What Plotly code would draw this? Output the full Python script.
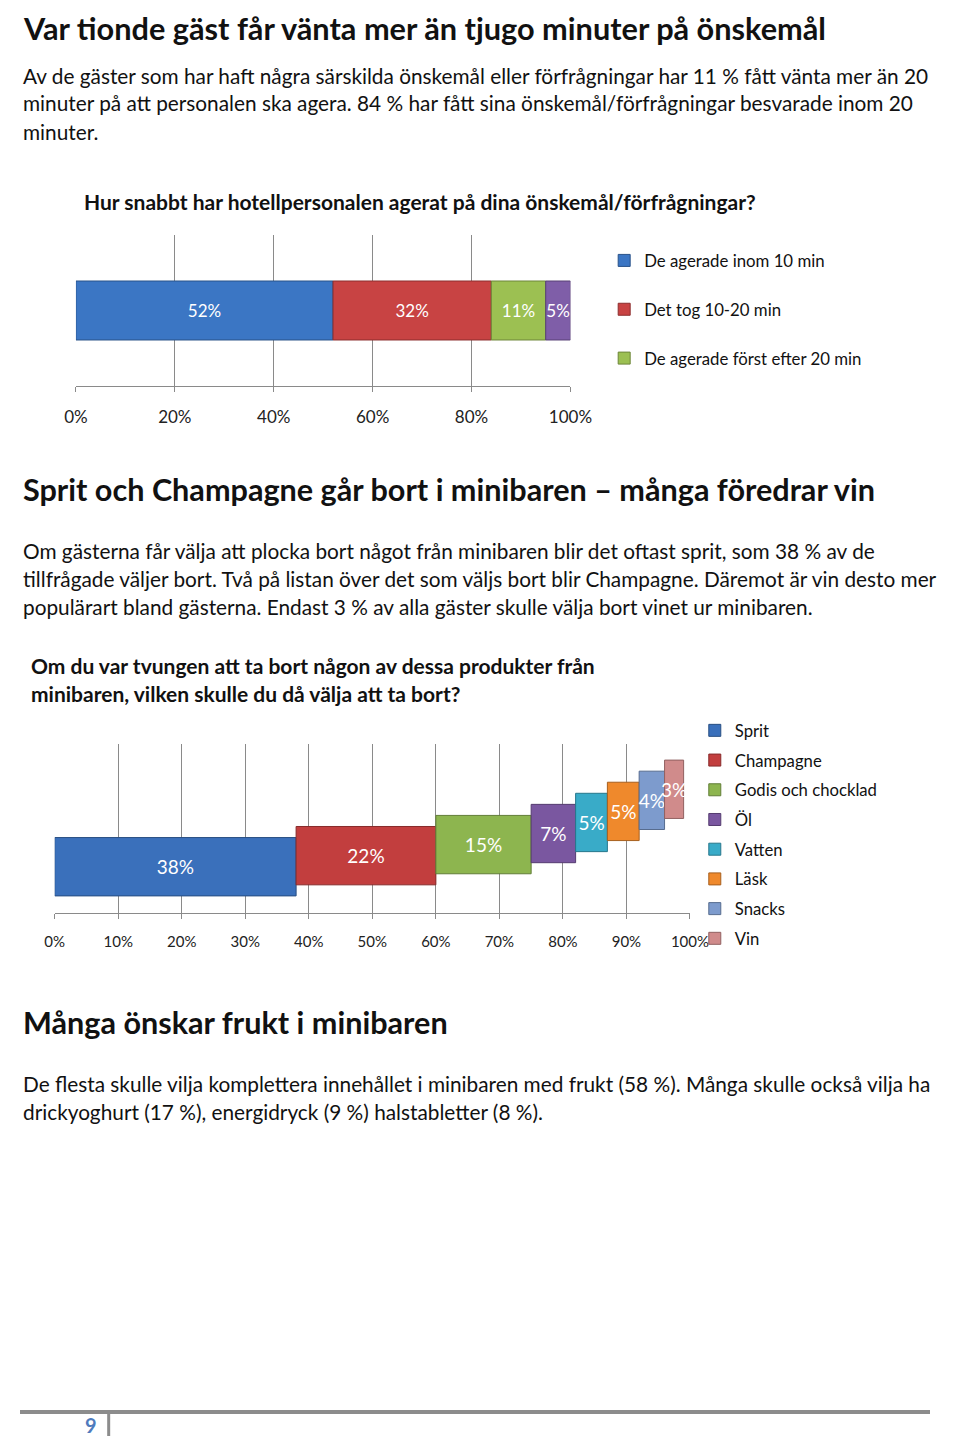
import numpy as np
import plotly.graph_objects as go

# the browser body keeps an 8px margin, so the figure is 16px smaller than the page
PAGE_W, PAGE_H = 960, 1444
W, H = PAGE_W - 16, PAGE_H - 16
FONT = "Lato"

# --- data -------------------------------------------------------------
resp_names = ["De agerade inom 10 min", "Det tog 10-20 min",
              "De agerade först efter 20 min", "Vet ej"]
resp_values = [52, 32, 11, 5]
resp_colors = ["#3b76c4", "#c84343", "#9cc052", "#7f5ea8"]
resp_show = [True, True, True, False]

mini_names = ["Sprit", "Champagne", "Godis och chocklad", "Öl",
              "Vatten", "Läsk", "Snacks", "Vin"]
mini_values = [38, 22, 15, 7, 5, 5, 4, 3]
mini_colors = ["#3a70bb", "#c23e3e", "#8db54f", "#7a57a0",
               "#39abc8", "#ef892c", "#7d9bcd", "#d08b8b"]

ticks1 = [0, 20, 40, 60, 80, 100]
ticks2 = [0, 10, 20, 30, 40, 50, 60, 70, 80, 90, 100]

title1 = "Var tionde gäst får vänta mer än tjugo minuter på önskemål"
para1 = ["Av de gäster som har haft några särskilda önskemål eller förfrågningar har 11 % fått vänta mer än 20",
         "minuter på att personalen ska agera. 84 % har fått sina önskemål/förfrågningar besvarade inom 20",
         "minuter."]
chart1_title = "Hur snabbt har hotellpersonalen agerat på dina önskemål/förfrågningar?"
title2 = "Sprit och Champagne går bort i minibaren – många föredrar vin"
para2 = ["Om gästerna får välja att plocka bort något från minibaren blir det oftast sprit, som 38 % av de",
         "tillfrågade väljer bort. Två på listan över det som väljs bort blir Champagne. Däremot är vin desto mer",
         "populärart bland gästerna. Endast 3 % av alla gäster skulle välja bort vinet ur minibaren."]
chart2_title = ["Om du var tvungen att ta bort någon av dessa produkter från",
                "minibaren, vilken skulle du då välja att ta bort?"]
title3 = "Många önskar frukt i minibaren"
para3 = ["De flesta skulle vilja komplettera innehållet i minibaren med frukt (58 %). Många skulle också vilja ha",
         "drickyoghurt (17 %), energidryck (9 %) halstabletter (8 %)."]
page_no = "9"


# page pixel -> paper fraction
def px(x):
    return (x - 8) / W


def py(y):
    return 1 - (y - 8) / H


def darker(hex_color, f=0.7):
    r, g, b = (int(hex_color[i:i + 2], 16) for i in (1, 3, 5))
    return f"rgb({int(r * f)},{int(g * f)},{int(b * f)})"


fig = go.Figure()

# chart 1: one stacked bar
resp_base = np.cumsum([0] + resp_values[:-1])
for name, val, base, col, show in zip(resp_names, resp_values, resp_base, resp_colors, resp_show):
    fig.add_trace(go.Bar(
        x=[val], y=[0], base=[base], orientation="h", width=1,
        name=name, showlegend=show, legendgroup=name, legend="legend",
        marker=dict(color=col, line=dict(color=darker(col), width=1)),
        text=[f"{val}%"], textposition="inside", insidetextanchor="middle",
        textangle=0, constraintext="none",
        textfont=dict(family=FONT, size=17, color="white"),
        xaxis="x", yaxis="y", hoverinfo="skip",
    ))

# chart 2: stepped bars, each one starts where the previous ends
mini_base = np.cumsum([0] + mini_values[:-1])
for i, (name, val, base, col) in enumerate(zip(mini_names, mini_values, mini_base, mini_colors)):
    fig.add_trace(go.Bar(
        x=[val], y=[i], base=[base], orientation="h", width=58 / 11,
        name=name, legendgroup=name, legend="legend2",
        marker=dict(color=col, line=dict(color=darker(col), width=1)),
        text=[f"{val}%"], textposition="inside", insidetextanchor="middle",
        textangle=0, constraintext="none", cliponaxis=False,
        textfont=dict(family=FONT, size=19, color="white"),
        xaxis="x2", yaxis="y2", hoverinfo="skip",
    ))

axis_common = dict(
    range=[0, 100], showgrid=True, gridcolor="#8a8a8a", gridwidth=1,
    zeroline=False, showline=True, linecolor="#8a8a8a", linewidth=1,
    ticks="outside", ticklen=5, tickcolor="#8a8a8a", fixedrange=True,
    tickmode="array",
)

fig.update_layout(
    width=W, height=H, margin=dict(l=0, r=0, t=0, b=0),
    paper_bgcolor="white", plot_bgcolor="white",
    barmode="overlay", font=dict(family=FONT, color="#111111"),
    xaxis=dict(axis_common, domain=[px(66), px(579)], tickvals=ticks1,
               ticktext=[f"{v}%" for v in ticks1],
               tickfont=dict(family=FONT, size=17, color="#222222"),
               ticklabelstandoff=11, anchor="y"),
    yaxis=dict(domain=[py(386), py(235)], range=[-1.28, 1.28], visible=False,
               fixedrange=True, anchor="x"),
    xaxis2=dict(axis_common, domain=[px(44), px(703)], tickvals=ticks2,
                ticktext=[f"{v}%" for v in ticks2],
                tickfont=dict(family=FONT, size=15, color="#222222"),
                ticklabelstandoff=10, anchor="y2"),
    yaxis2=dict(domain=[py(913), py(744)], range=[-46 / 11, 7 + 45 / 11],
                visible=False, fixedrange=True, anchor="x2"),
    legend=dict(x=px(614), y=py(243), xanchor="left", yanchor="top",
                traceorder="grouped", tracegroupgap=24,
                font=dict(family=FONT, size=16.8, color="#111111"),
                bgcolor="rgba(0,0,0,0)"),
    legend2=dict(x=px(708), y=py(713), xanchor="left", yanchor="top",
                 traceorder="grouped", tracegroupgap=5,
                 font=dict(family=FONT, size=16.7, color="#111111"),
                 bgcolor="rgba(0,0,0,0)"),
)

annotations = []


def text_line(s, x, y, size, bold=False, color="#111111", anchor="middle"):
    annotations.append(dict(
        text=f"<b>{s}</b>" if bold else s, x=px(x), y=py(y),
        xref="paper", yref="paper", xanchor="left", yanchor=anchor,
        showarrow=False, font=dict(family=FONT, size=size, color=color),
    ))


# page title sits right at the top edge of the page
text_line(title1, 9, 8, 30.7, bold=True, anchor="top")
for k, s in enumerate(para1):
    text_line(s, 9, 75 + 28 * k, 20.8)
text_line(chart1_title, 72, 202, 21, bold=True)
text_line(title2, 9, 489, 30.6, bold=True)
for k, s in enumerate(para2):
    text_line(s, 9, 550 + 28 * k, 20.8)
for k, s in enumerate(chart2_title):
    text_line(s, 17, 666 + 27 * k, 21, bold=True)
text_line(title3, 9, 1022, 30.6, bold=True)
for k, s in enumerate(para3):
    text_line(s, 9, 1083 + 28 * k, 20.8)

annotations.append(dict(
    text=f"<b>{page_no}</b>", x=px(89), y=py(1425), xref="paper", yref="paper",
    xanchor="right", yanchor="middle", showarrow=False, borderpad=0,
    font=dict(family=FONT, size=20, color="#4f7bbd"),
))
fig.update_layout(annotations=annotations)

# footer rules
fig.add_shape(type="line", xref="paper", yref="paper", x0=0, x1=1,
              y0=py(1412), y1=py(1412), line=dict(color="#8c8c8c", width=4))
fig.add_shape(type="line", xref="paper", yref="paper", x0=px(100), x1=px(100),
              y0=py(1412), y1=0, line=dict(color="#8c8c8c", width=3))

fig.write_html("out.html")
